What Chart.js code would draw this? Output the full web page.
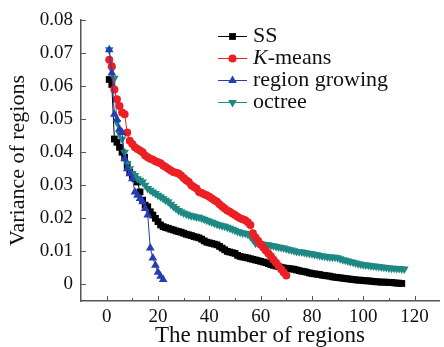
<!DOCTYPE html>
<html>
<head>
<meta charset="utf-8">
<script src="https://cdn.jsdelivr.net/npm/chart.js@4.4.1/dist/chart.umd.min.js"></script>
<style>
  html, body { margin: 0; padding: 0; background: #fff; }
  #wrap { width: 444px; height: 347px; }
</style>
</head>
<body>
<div id="wrap"><canvas id="chart" width="444" height="347"></canvas></div>
<script>
// tick positions / labels
const xTicks      = [0, 20, 40, 60, 80, 100, 120];
const xMinorTicks = [10, 30, 50, 70, 90, 110];
const yTicks      = [0, 0.01, 0.02, 0.03, 0.04, 0.05, 0.06, 0.07, 0.08];
const yTickLabels = ['0', '0.01', '0.02', '0.03', '0.04', '0.05', '0.06', '0.07', '0.08'];

// variance per number of regions (index 0 -> 1 region)
const ssVariance = [
    0.062, 0.0605, 0.044, 0.043, 0.0415, 0.040, 0.0385, 0.036, 0.034, 0.033,
    0.032, 0.031, 0.028, 0.0255, 0.024, 0.0235, 0.022, 0.021, 0.020, 0.019,
    0.018, 0.0175, 0.0172, 0.017, 0.0167, 0.0165, 0.0162, 0.016, 0.0158, 0.0155,
    0.0152, 0.015, 0.0148, 0.0145, 0.0143, 0.0141, 0.0137, 0.0132, 0.0128, 0.0126,
    0.0124, 0.0122, 0.012, 0.0115, 0.011, 0.0105, 0.010, 0.0098, 0.0096, 0.0094,
    0.0088, 0.0085, 0.0083, 0.0082, 0.008, 0.0078, 0.0076, 0.0074, 0.0072, 0.007,
    0.0068, 0.0066, 0.0063, 0.006, 0.0058, 0.0056, 0.0054, 0.0052, 0.005, 0.0049,
    0.0048, 0.0047, 0.0046, 0.0044, 0.0042, 0.004, 0.0039, 0.0037, 0.0035, 0.0033,
    0.0032, 0.0031, 0.003, 0.0028, 0.0027, 0.0026, 0.0025, 0.0023, 0.0022, 0.0021,
    0.002, 0.0019, 0.0018, 0.0017, 0.0016, 0.0015, 0.0014, 0.0013, 0.0013, 0.0012,
    0.0011, 0.0011, 0.001, 0.0009, 0.0008, 0.0008, 0.0007, 0.0007, 0.0007, 0.0006,
    0.0006, 0.0005, 0.0004, 0.0004, 0.0003
];
const kmeansVariance = [
    0.068, 0.066, 0.059, 0.056, 0.054, 0.052, 0.0515, 0.046, 0.0435, 0.0425,
    0.0415, 0.041, 0.0405, 0.040, 0.039, 0.0385, 0.038, 0.0377, 0.0373, 0.037,
    0.0367, 0.036, 0.0355, 0.035, 0.0345, 0.034, 0.0338, 0.0336, 0.033, 0.0322,
    0.0315, 0.031, 0.030, 0.0295, 0.029, 0.028, 0.0277, 0.0273, 0.027, 0.0265,
    0.026, 0.0255, 0.025, 0.0243, 0.0236, 0.023, 0.0224, 0.022, 0.0215, 0.021,
    0.0205, 0.020, 0.0197, 0.0194, 0.0188, 0.018, 0.0155, 0.0142, 0.0132, 0.0122,
    0.0112, 0.0103, 0.0094, 0.0085, 0.0075, 0.0066, 0.0056, 0.0046, 0.0036, 0.0027
];
const regionGrowingVariance = [
    0.071, 0.064, 0.0515, 0.050, 0.047, 0.046, 0.038, 0.035, 0.0335, 0.032,
    0.028, 0.027, 0.026, 0.025, 0.023, 0.021, 0.011, 0.008, 0.0058, 0.0037,
    0.0025, 0.0015
];
const octreeVariance = [
    0.071, 0.065, 0.0624, 0.049, 0.0457, 0.044, 0.040, 0.0366, 0.035, 0.0336,
    0.033, 0.032, 0.0315, 0.031, 0.030, 0.029, 0.0285, 0.028, 0.0275, 0.027,
    0.0265, 0.026, 0.0255, 0.025, 0.0243, 0.0236, 0.023, 0.0224, 0.022, 0.0216,
    0.0213, 0.021, 0.0208, 0.0206, 0.0204, 0.0203, 0.020, 0.0197, 0.0194, 0.0191,
    0.0188, 0.0185, 0.0182, 0.018, 0.0178, 0.0176, 0.0173, 0.017, 0.0167, 0.0164,
    0.016, 0.0158, 0.0156, 0.0155, 0.0152, 0.0145, 0.0135, 0.0125, 0.0124, 0.0123,
    0.0122, 0.0121, 0.012, 0.0118, 0.0117, 0.0115, 0.0113, 0.0112, 0.011, 0.0108,
    0.0106, 0.0104, 0.0102, 0.010, 0.0099, 0.0098, 0.0097, 0.0095, 0.0094, 0.0093,
    0.0091, 0.009, 0.0088, 0.0086, 0.0085, 0.0084, 0.0083, 0.0082, 0.0082, 0.0081,
    0.0078, 0.0075, 0.0073, 0.0071, 0.0069, 0.0067, 0.0065, 0.0063, 0.0061, 0.006,
    0.0059, 0.0058, 0.0057, 0.0056, 0.0055, 0.0054, 0.0053, 0.0052, 0.0051, 0.005,
    0.0049, 0.0049, 0.0048, 0.0048, 0.0047, 0.0047
];

const FONT = '"Liberation Serif", "DejaVu Serif", serif';
const AXIS_COLOR = '#555';

const SERIES = [
    { label: 'SS',             values: ssVariance,            color: '#000000',            style: 'rect',     rotation: 0,   radius: 4.8, order: 4 },
    { label: 'K-means',        values: kmeansVariance,        color: 'rgb(236, 32, 36)',   style: 'circle',   rotation: 0,   radius: 4,   order: 2 },
    { label: 'region growing', values: regionGrowingVariance, color: 'rgb(36, 62, 178)',   style: 'triangle', rotation: 0,   radius: 5,   order: 1 },
    { label: 'octree',         values: octreeVariance,        color: 'rgb(30, 136, 132)',  style: 'triangle', rotation: 180, radius: 5,   order: 3 },
];

function buildDatasets() {
    return SERIES.map(s => ({
        label: s.label,
        data: s.values.map((v, i) => ({ x: i + 1, y: v })),
        borderColor: s.color,
        backgroundColor: s.color,
        borderWidth: 1,
        pointStyle: s.style,
        pointRotation: s.rotation,
        pointRadius: s.radius,
        pointBorderWidth: 0,
        tension: 0,
        order: s.order,
    }));
}

function drawMarker(ctx, s, x, y) {
    ctx.fillStyle = s.color;
    ctx.beginPath();
    if (s.style === 'rect') {
        const h = s.radius * Math.SQRT1_2;
        ctx.rect(x - h, y - h, 2 * h, 2 * h);
    } else if (s.style === 'circle') {
        ctx.arc(x, y, s.radius, 0, Math.PI * 2);
    } else {
        const r = s.radius;
        const dir = s.rotation === 180 ? -1 : 1;
        ctx.moveTo(x, y - dir * r);
        ctx.lineTo(x + r * 0.866, y + dir * r / 2);
        ctx.lineTo(x - r * 0.866, y + dir * r / 2);
        ctx.closePath();
    }
    ctx.fill();
}

// inward ticks + legend with line and marker
const decorations = {
    id: 'decorations',
    afterDraw(chart) {
        const ctx = chart.ctx;
        const xs = chart.scales.x, ys = chart.scales.y;
        const area = chart.chartArea;
        ctx.save();
        ctx.strokeStyle = AXIS_COLOR;
        ctx.lineWidth = 1;
        ctx.beginPath();
        yTicks.forEach(v => {
            const py = Math.round(ys.getPixelForValue(v)) + 0.5;
            ctx.moveTo(area.left, py); ctx.lineTo(area.left + 5, py);
        });
        xTicks.forEach(v => {
            const px = Math.round(xs.getPixelForValue(v)) + 0.5;
            ctx.moveTo(px, area.bottom); ctx.lineTo(px, area.bottom - 5);
        });
        xMinorTicks.forEach(v => {
            const px = Math.round(xs.getPixelForValue(v)) + 0.5;
            ctx.moveTo(px, area.bottom); ctx.lineTo(px, area.bottom - 3);
        });
        ctx.stroke();

        // legend
        const lx = 218, tx = 253;
        let ly = 36;
        ctx.textBaseline = 'middle';
        SERIES.forEach(s => {
            ctx.strokeStyle = s.color;
            ctx.lineWidth = 1;
            ctx.beginPath();
            ctx.moveTo(lx, ly + 0.5); ctx.lineTo(lx + 29, ly + 0.5);
            ctx.stroke();
            drawMarker(ctx, s, lx + 14.5, ly + 0.5);
            ctx.fillStyle = '#111';
            if (s.label.startsWith('K-')) {
                ctx.font = 'italic 22px ' + FONT;
                ctx.fillText('K', tx, ly);
                const w = ctx.measureText('K').width;
                ctx.font = '22px ' + FONT;
                ctx.fillText(s.label.slice(1), tx + w, ly);
            } else {
                ctx.font = '22px ' + FONT;
                ctx.fillText(s.label, tx, ly);
            }
            ly += 22;
        });
        ctx.restore();
    }
};

new Chart(document.getElementById('chart').getContext('2d'), {
    type: 'line',
    data: { datasets: buildDatasets() },
    options: {
        responsive: false,
        animation: false,
        layout: { padding: { top: 20, right: 1, left: 0, bottom: 0 } },
        plugins: {
            legend: { display: false },
            tooltip: { enabled: false },
        },
        scales: {
            x: {
                type: 'linear',
                min: -10,
                max: 129.5,
                afterBuildTicks: scale => { scale.ticks = xTicks.map(v => ({ value: v })); },
                afterFit: scale => { scale.height = 46; },
                grid: { display: false, drawTicks: false },
                border: { display: true, color: AXIS_COLOR, width: 1.5 },
                ticks: {
                    padding: 5,
                    color: '#111',
                    maxRotation: 0,
                    font: { family: FONT, size: 19 },
                },
                title: {
                    display: true,
                    text: 'The number of regions',
                    color: '#111',
                    font: { family: FONT, size: 23, lineHeight: 1.0 },
                    padding: { top: 0, bottom: 0 },
                },
            },
            y: {
                type: 'linear',
                min: -0.005,
                max: 0.08,
                afterBuildTicks: scale => { scale.ticks = yTicks.map(v => ({ value: v })); },
                afterFit: scale => { scale.width = 81; },
                grid: { display: false, drawTicks: false },
                border: { display: true, color: AXIS_COLOR, width: 1.5 },
                ticks: {
                    padding: 8,
                    color: '#111',
                    font: { family: FONT, size: 19 },
                    callback: (value, index) => yTickLabels[index],
                },
                title: {
                    display: true,
                    text: 'Variance of regions',
                    color: '#111',
                    font: { family: FONT, size: 22 },
                    padding: { top: 5, bottom: 0 },
                },
            },
        },
    },
    plugins: [decorations],
});
</script>
</body>
</html>
